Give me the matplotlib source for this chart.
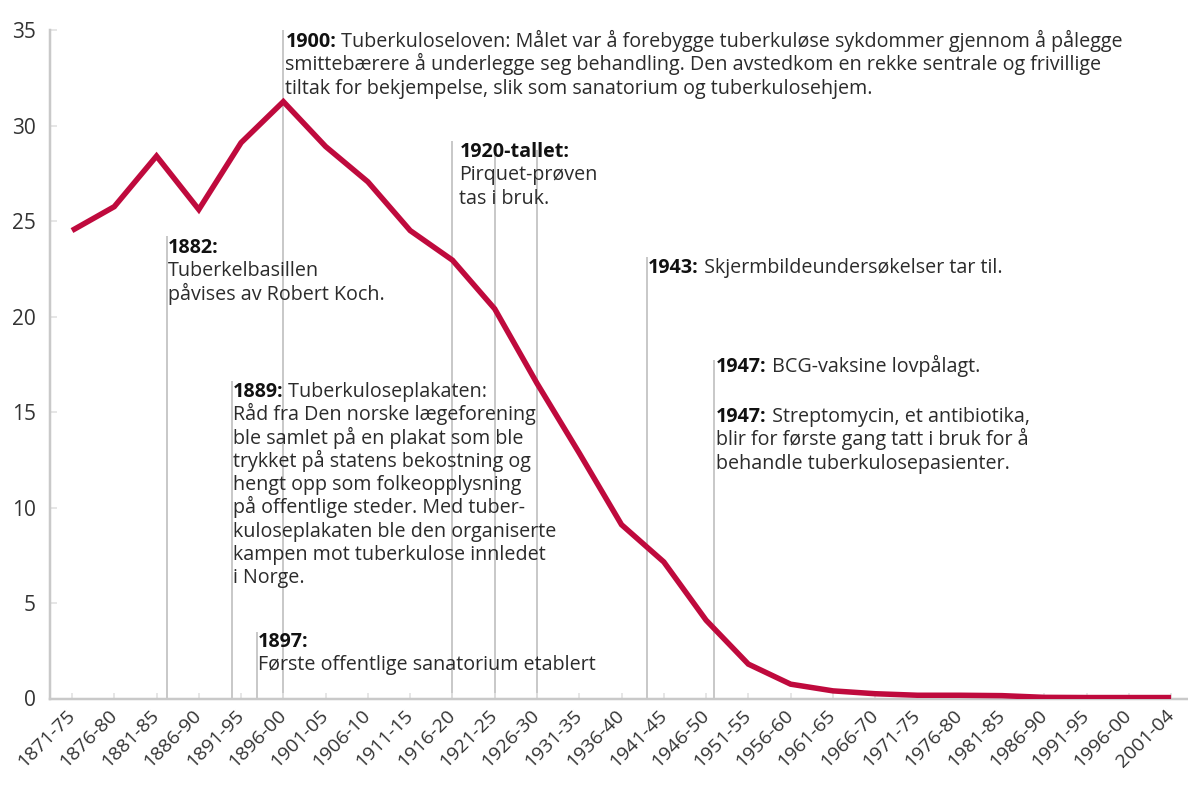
import matplotlib
matplotlib.use("Agg")
import matplotlib.pyplot as plt

# ---------------- data ----------------
periods = ["1871-75", "1876-80", "1881-85", "1886-90", "1891-95", "1896-00",
           "1901-05", "1906-10", "1911-15", "1916-20", "1921-25", "1926-30",
           "1931-35", "1936-40", "1941-45", "1946-50", "1951-55", "1956-60",
           "1961-65", "1966-70", "1971-75", "1976-80", "1981-85", "1986-90",
           "1991-95", "1996-00", "2001-04"]
deaths = [24.5, 25.75, 28.4, 25.6, 29.1, 31.25, 28.9, 27.05, 24.5, 22.95,
          20.4, 16.5, 12.85, 9.1, 7.15, 4.1, 1.8, 0.75, 0.4, 0.25,
          0.17, 0.17, 0.15, 0.06, 0.05, 0.05, 0.05]
y_ticks = [0, 5, 10, 15, 20, 25, 30, 35]

# event marker lines (x in category units, top in y units)
event_x = [2.24, 3.78, 4.38, 5.0, 9.0, 10.0, 11.0, 13.6, 15.19]
event_top = [24.2, 16.6, 3.5, 35.0, 29.2, 28.7, 28.7, 23.1, 17.7]

# annotations: x, baseline y, bold label, rest of first line, following lines, x offset px
notes = [
    (5.0, 34.1, "1900:", " Tuberkuloseloven: Målet var å forebygge tuberkuløse sykdommer gjennom å pålegge",
     ["smittebærere å underlegge seg behandling. Den avstedkom en rekke sentrale og frivillige",
      "tiltak for bekjempelse, slik som sanatorium og tuberkulosehjem."], 2),
    (2.24, 23.32, "1882:", "", ["Tuberkelbasillen", "påvises av Robert Koch."], 1),
    (3.78, 15.79, "1889:", " Tuberkuloseplakaten:",
     ["Råd fra Den norske lægeforening", "ble samlet på en plakat som ble",
      "trykket på statens bekostning og", "hengt opp som folkeopplysning",
      "på offentlige steder. Med tuber-", "kuloseplakaten ble den organiserte",
      "kampen mot tuberkulose innledet", "i Norge."], 1),
    (4.38, 2.70, "1897:", "", ["Første offentlige sanatorium etablert"], 1),
    (9.0, 28.35, "1920-tallet:", "", ["Pirquet-prøven", "tas i bruk."], 7),
    (13.6, 22.28, "1943:", " Skjermbildeundersøkelser tar til.", [], 1),
    (15.19, 17.09, "1947:", " BCG-vaksine lovpålagt.", [], 2),
    (15.19, 14.48, "1947:", " Streptomycin, et antibiotika,",
     ["blir for første gang tatt i bruk for å", "behandle tuberkulosepasienter."], 2),
]

# ---------------- style ----------------
plt.rcParams["font.family"] = ["Open Sans", "DejaVu Sans"]
W, H = 1188, 786
DPI = 100
PX = 72.0 / DPI  # points per pixel
TEXT_C = "#2b2b2b"
GRID_C = "#c9c9c9"
LINE_C = "#bf0a3d"
FS = 14.2
LS_PX = 23.3

fig = plt.figure(figsize=(W / DPI, H / DPI), dpi=DPI)
ax = fig.add_axes([50 / W, (H - 698.5) / H, (W - 50) / W, (698.5 - 30) / H])

x = list(range(len(periods)))
ax.set_xlim(-0.52, 26.4)
ax.set_ylim(0, 35)

# event lines
ax.vlines(event_x, 0, event_top, colors=GRID_C, linewidth=2 * PX, zorder=1)

# data line
ax.plot(x, deaths, color=LINE_C, linewidth=5.5 * PX, solid_joinstyle="miter",
        solid_capstyle="butt", zorder=3)

# spines
for s in ["top", "right"]:
    ax.spines[s].set_visible(False)
for s in ["left", "bottom"]:
    ax.spines[s].set_color(GRID_C)
    ax.spines[s].set_linewidth(2.5 * PX)

ax.set_yticks(y_ticks)
ax.set_yticklabels([str(v) for v in y_ticks])
ax.set_xticks(x)
ax.set_xticklabels(periods)
ax.tick_params(axis="y", direction="in", length=5, width=1.2, color="#e2e2e2",
               labelsize=15, labelcolor="#333333", pad=10)
ax.tick_params(axis="x", direction="in", length=4, width=1.2, color="#e2e2e2",
               labelsize=14, labelcolor="#333333", pad=10)
for lab in ax.get_xticklabels():
    lab.set_rotation(45)
    lab.set_ha("right")
    lab.set_va("center")
    lab.set_rotation_mode("anchor")
for lab in ax.get_yticklabels():
    lab.set_va("center_baseline")

# annotations
for (nx, ny, bold, rest, lines, dx) in notes:
    b = ax.annotate(bold, xy=(nx, ny), xycoords="data",
                    xytext=(dx * PX, 0), textcoords="offset points",
                    fontsize=FS, fontweight="bold", color="#111111",
                    va="baseline", ha="left", zorder=4)
    if rest:
        ax.annotate(rest, xy=(1, 0), xycoords=b, xytext=(0, 0),
                    textcoords="offset points", fontsize=FS, color=TEXT_C,
                    va="bottom", ha="left", zorder=4)
    for i, ln in enumerate(lines):
        ax.annotate(ln, xy=(nx, ny), xycoords="data",
                    xytext=(dx * PX, -(i + 1) * LS_PX * PX), textcoords="offset points",
                    fontsize=FS, color=TEXT_C, va="baseline", ha="left", zorder=4)

fig.savefig("out.png", dpi=DPI, facecolor="white")
